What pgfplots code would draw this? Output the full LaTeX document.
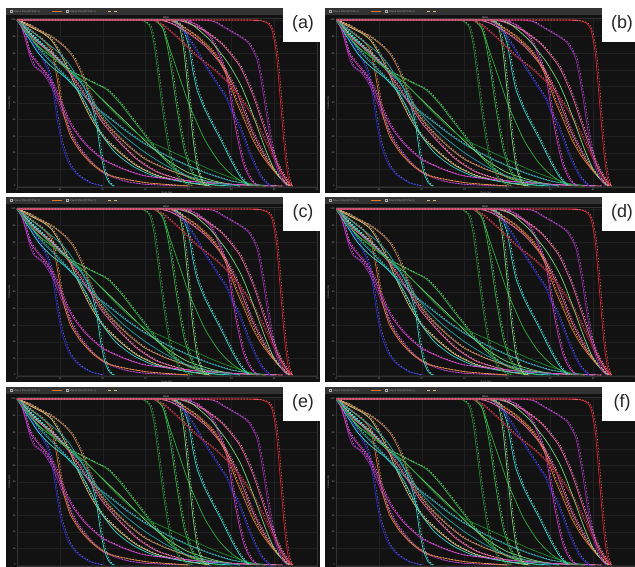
\documentclass[border=0pt]{standalone}
\usepackage{fontspec}
\setmainfont{Liberation Sans}
\usepackage{pgfplots}
\pgfplotsset{compat=1.18}

\definecolor{cred}{HTML}{E0202A}
\definecolor{cdred}{HTML}{B01E30}
\definecolor{cpurple}{HTML}{9A28B0}
\definecolor{cmag}{HTML}{D030C8}
\definecolor{cpink}{HTML}{E8609A}
\definecolor{corange}{HTML}{E07828}
\definecolor{cyellow}{HTML}{D8C070}
\definecolor{cgreen}{HTML}{30B040}
\definecolor{cdgreen}{HTML}{1E8A2A}
\definecolor{clgreen}{HTML}{78D878}
\definecolor{ccyan}{HTML}{30D8D0}
\definecolor{cteal}{HTML}{20A0A8}
\definecolor{cblue}{HTML}{2828C8}
\definecolor{cbrown}{HTML}{C08050}

\newcommand{\tinyf}{\fontsize{2.4}{2.8}\selectfont}

\pgfplotsset{
  dvh/.style={
    scale only axis, width=300bp, height=169.3bp, anchor=south west,
    xmin=0, xmax=70, ymin=-1, ymax=101,
    axis line style={draw=gray!40!black, line width=0.4bp},
    grid=major, major grid style={line width=0.3bp, draw=gray!25!black},
    xtick={0,10,...,70}, ytick={0,10,...,100},
    tick style={draw=none},
    /pgf/number format/assume math mode=true,
    ticklabel style={font=\tinyf, text=gray!70},
    xticklabel style={yshift=2bp}, yticklabel style={xshift=2bp},
    xlabel={Dose (Gy)}, ylabel={Volume (\%)},
    label style={font=\tinyf, text=gray!70},
    xlabel style={yshift=6bp}, ylabel style={yshift=-6bp},
    every axis plot/.append style={line width=0.7bp, smooth, tension=0.4, mark=none},
  }
}

% one solid DVH curve
\newcommand{\cv}[2]{\addplot[color=#1] coordinates {#2};}
% solid curve with its dashed partner (second plan)
\newcommand{\cvd}[2]{\addplot[color=#1] coordinates {#2};
  \addplot[color=#1!65!white, line width=0.55bp, dash pattern=on 1.4bp off 1.6bp, x filter/.expression={x+0.35}] coordinates {#2};}

\newcommand{\dvhcurves}{%
  % low-dose structures
  \cvd{cblue}{(0,100)(1,99)(2,93)(4,85)(6,76)(7.5,68)(8.5,55)(9.5,38)(10.5,25)(12,14)(14,7)(17,2)(20,0)}
  \cvd{cpurple}{(0,100)(1,98)(2,88)(3,78)(4,72)(6,68)(8,60)(10,48)(12,35)(14,25)(17,15)(20,8)(25,3)(30,1)(40,0)}
  \cvd{corange}{(0,100)(1,99)(2,96)(4,92)(6,88)(8,82)(9,70)(10,55)(11,42)(12.5,30)(15,20)(18,12)(22,6)(30,2)(40,0)}
  \cvd{cyellow}{(0,100)(1,99)(3,96)(6,92)(8,88)(10,80)(12,70)(14,58)(17,42)(20,30)(24,20)(28,12)(33,6)(40,2)(45,0)}
  \cvd{cgreen}{(0,100)(1,98)(3,92)(6,84)(9,76)(12,70)(15,66)(18,62)(21,58)(24,50)(27,40)(30,30)(33,20)(36,12)(40,5)(45,1)(48,0)}
  \cvd{ccyan}{(0,100)(1,98)(3,92)(6,85)(9,78)(12,70)(15,62)(17,52)(18.5,38)(19.5,20)(20.5,8)(21.5,2)(22.5,0)}
  \cvd{cteal}{(0,100)(1,97)(3,90)(6,80)(9,72)(12,64)(15,56)(18,48)(22,40)(26,32)(30,25)(35,18)(40,12)(45,7)(50,3)(55,1)(60,0)}
  \cv{ccyan}{(0,100)(1,96)(3,88)(5,80)(8,72)(11,66)(14,58)(16,50)(18,40)(20,30)(23,20)(27,12)(32,6)(40,2)(50,0)}
  \cvd{cpink}{(0,100)(1,98)(2.5,92)(5,86)(8,80)(11,72)(14,62)(17,50)(20,38)(24,26)(28,16)(33,8)(40,3)(50,1)(62,0)}
  \cvd{cbrown}{(0,100)(1,99)(3,97)(5,94)(8,90)(11,84)(13,78)(15,68)(17,55)(19,44)(22,34)(26,24)(30,16)(35,10)(42,4)(50,1)(58,0)}
  \cv{clgreen}{(0,100)(1,97)(3,90)(5,84)(8,78)(12,70)(16,62)(20,52)(24,42)(28,32)(32,22)(36,14)(40,8)(46,3)(52,0)}
  \cvd{cmag}{(0,100)(1,96)(2,88)(3,80)(5,73)(7,67)(9,58)(11,45)(13,35)(16,25)(20,16)(25,10)(30,6)(40,3)(50,1)(60,0)}
  \cv{cteal}{(0,100)(1,98)(3,94)(6,88)(9,82)(12,74)(15,62)(18,50)(21,40)(25,30)(30,20)(35,12)(40,6)(46,2)(52,0)}
  \cv{cdgreen}{(0,100)(1,97)(3,90)(6,82)(9,76)(12,70)(15,64)(18,57)(22,46)(26,36)(30,28)(35,22)(40,16)(45,10)(50,5)(55,1)(58,0)}
  % mid-dose steep structures
  \cvd{cdgreen}{(0,100)(28,100)(29.5,99.5)(31,96)(32,85)(33,65)(34,45)(35,28)(36,15)(37.5,6)(39,2)(41,0)}
  \cvd{cgreen}{(0,100)(31,100)(32.5,99)(34,95)(35,85)(36,70)(37,52)(38,36)(39,22)(40.5,10)(42,4)(44,0)}
  \cv{cgreen}{(0,100)(31,100)(32.5,99)(34,95)(36,80)(38,65)(40,50)(42,38)(44,27)(47,15)(50,7)(53,2)(56,0)}
  \cvd{clgreen}{(0,100)(35,100)(36.5,99)(38,95)(39,80)(40,55)(41,30)(42,12)(43,4)(44,0)}
  % high-dose structures
  \cvd{ccyan}{(0,100)(35,100)(37,99)(38.5,96)(40,85)(41,70)(42,58)(43.5,48)(45,40)(47.5,28)(50,15)(52,6)(54,0)}
  \cvd{cblue}{(0,100)(34,100)(36,99)(38,96)(41,85)(44,72)(47,60)(49,52)(50,45)(51.5,38)(53,28)(55,15)(57,5)(59,0)}
  \cvd{cmag}{(0,100)(38,100)(40,99)(42,97)(45,90)(47,80)(49,65)(50,50)(51,35)(52,22)(53,12)(54.5,4)(56,0)}
  \cvd{cpink}{(0,100)(32,100)(34,99.5)(36,98)(40,92)(44,84)(48,72)(51,58)(53,45)(55,32)(57,22)(59,13)(61,6)(63,1)(64,0)}
  \cvd{corange}{(0,100)(34,100)(36,99.5)(38,97)(42,90)(46,80)(49,66)(51,52)(53,40)(55,28)(57,19)(59,12)(61,6)(63.5,0)}
  \cvd{cdred}{(0,100)(30,100)(32,99.5)(34,97)(38,88)(42,78)(46,70)(50,60)(54,46)(57,32)(60,16)(62,6)(64,0)}
  \cvd{cpink}{(0,100)(36,100)(38,99.5)(40,98)(44,93)(48,85)(52,72)(55,55)(57,40)(59,25)(61,12)(63,3)(64,0)}
  \cv{clgreen}{(0,100)(37,100)(39,99.5)(41,97)(45,88)(49,75)(52,62)(54,50)(56,36)(58,22)(60,10)(62,3)(63.5,0)}
  \cvd{cpurple}{(0,100)(42,100)(44,99.8)(46,99)(48,96)(50,93)(52,90)(54,86)(56,76)(57.5,55)(59,30)(60.5,12)(62,3)(63,0)}
  % target
  \cvd{cred}{(0,100)(53,100)(55,99.8)(57,99.5)(58.5,98)(59.5,94)(60.5,80)(61.5,50)(62.5,20)(63.3,5)(64,0)}
}

% #1 left, #2 top (picture pixels from the top), #3 panel letter
\newcommand{\panel}[3]{%
  \fill[black!93] (#1bp,567bp-#2bp) rectangle (#1bp+314bp,567bp-#2bp-185bp);
  \fill[black!80] (#1bp,567bp-#2bp) rectangle (#1bp+314bp,567bp-#2bp-7bp);
  \draw[gray!60, line width=0.3bp] (#1bp+4bp,567bp-#2bp-2bp) rectangle (#1bp+6bp,567bp-#2bp-4bp);
  \node[anchor=west, font=\tinyf, text=gray!70, inner sep=0] at (#1bp+8bp,567bp-#2bp-3.5bp) {Plan A DVH (RT-Plan 1)};
  \draw[corange, line width=0.5bp] (#1bp+46bp,567bp-#2bp-3.5bp) -- (#1bp+56bp,567bp-#2bp-3.5bp);
  \draw[gray!60, line width=0.3bp] (#1bp+60bp,567bp-#2bp-2bp) rectangle (#1bp+62bp,567bp-#2bp-4bp);
  \node[anchor=west, font=\tinyf, text=gray!70, inner sep=0] at (#1bp+64bp,567bp-#2bp-3.5bp) {Plan B DVH (RT-Plan 2)};
  \draw[cyellow, line width=0.5bp, dashed] (#1bp+102bp,567bp-#2bp-3.5bp) -- (#1bp+112bp,567bp-#2bp-3.5bp);
  \node[font=\tinyf, text=white, inner sep=0] at (#1bp+160bp,567bp-#2bp-9.5bp) {DVH};
  \begin{axis}[dvh, at={(#1bp+11bp,567bp-#2bp-179.66bp)}]
    \dvhcurves
  \end{axis}
  \fill[white] (#1bp+277bp,567bp-#2bp+2bp) rectangle (#1bp+320bp,567bp-#2bp-34bp);
  \node[font=\fontsize{18}{20}\selectfont, text=black!85] at (#1bp+297bp,567bp-#2bp-16bp) {(#3)};
}

\begin{document}
\begin{tikzpicture}
\useasboundingbox (0,0) rectangle (635bp,567bp);
\clip (0,0) rectangle (635bp,567bp);
\fill[white] (0,0) rectangle (635bp,567bp);
\panel{6}{8}{a}
\panel{325}{8}{b}
\panel{6}{197}{c}
\panel{325}{197}{d}
\panel{6}{387}{e}
\panel{325}{387}{f}
\end{tikzpicture}
\end{document}
